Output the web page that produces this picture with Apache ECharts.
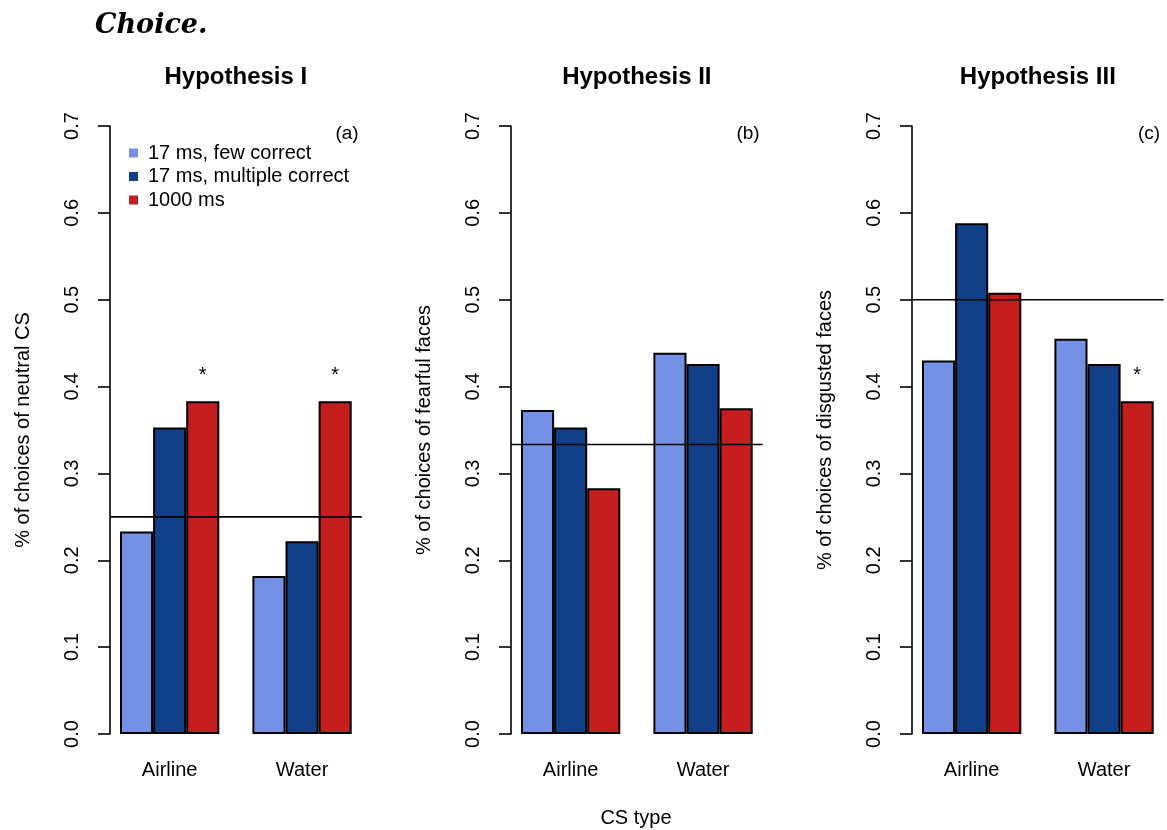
<!DOCTYPE html>
<html>
<head>
<meta charset="utf-8">
<title>Choice</title>
<script src="https://cdn.jsdelivr.net/npm/echarts@6/dist/echarts.min.js"></script>
<style>
  html, body { margin: 0; padding: 0; background: #fff; }
  #chart { width: 1167px; height: 830px; }
</style>
</head>
<body>
<div id="chart"></div>
<script>
// Categories and groups
const categories = ['Airline', 'Water'];
const groupNames = ['17 ms, few correct', '17 ms, multiple correct', '1000 ms'];
const groupColors = ['#7591E6', '#113F88', '#C61E1E'];
const yTicks = [0, 0.1, 0.2, 0.3, 0.4, 0.5, 0.6, 0.7];

// Hypothesis I: proportion choosing the neutral CS
const h1Few = [0.233, 0.182];
const h1Multi = [0.353, 0.222];
const h1Long = [0.383, 0.383];
const h1Stars = [true, true];

// Hypothesis II: proportion choosing fearful faces
const h2Few = [0.373, 0.439];
const h2Multi = [0.353, 0.426];
const h2Long = [0.283, 0.375];
const h2Stars = [false, false];

// Hypothesis III: proportion choosing disgusted faces
const h3Few = [0.430, 0.455];
const h3Multi = [0.588, 0.426];
const h3Long = [0.508, 0.383];
const h3Stars = [false, true];

// Chance level per hypothesis
const chanceLevels = [0.25, 1 / 3, 0.5];

const panels = [
  { title: 'Hypothesis I', tag: '(a)', yName: '% of choices of neutral CS', values: [h1Few, h1Multi, h1Long], stars: h1Stars },
  { title: 'Hypothesis II', tag: '(b)', yName: '% of choices of fearful faces', values: [h2Few, h2Multi, h2Long], stars: h2Stars },
  { title: 'Hypothesis III', tag: '(c)', yName: '% of choices of disgusted faces', values: [h3Few, h3Multi, h3Long], stars: h3Stars }
];

// Layout
const axisX = [110, 511, 912];
const unit = 33.1;          // width of one bar
const plotTop = 126;
const plotHeight = 608;
const FONT = '"Liberation Sans", Arial, Helvetica, sans-serif';

const grids = [], xAxes = [], yAxes = [], series = [], graphics = [];

panels.forEach((p, i) => {
  const ax = axisX[i];
  const barStart = ax + 10;
  const barGrid = i * 2, lineGrid = i * 2 + 1;
  // grid holding the bars (one category band = gap + 3 bars)
  grids.push({ left: barStart - 0.5 * unit, width: 8 * unit, top: plotTop, height: plotHeight, outerBoundsMode: 'none' });
  // grid spanning the plot region, carrying the y axis and the chance line
  grids.push({ left: ax, width: 7 * unit + 20, top: plotTop, height: plotHeight, outerBoundsMode: 'none' });

  xAxes.push({
    type: 'category', gridIndex: barGrid, data: categories,
    axisLine: { show: false }, axisTick: { show: false },
    axisLabel: { margin: 26, fontSize: 20, color: '#000', fontFamily: FONT }
  });
  xAxes.push({ type: 'value', gridIndex: lineGrid, min: 0, max: 1, show: false });

  yAxes.push({ type: 'value', gridIndex: barGrid, min: 0, max: 0.7, show: false });
  yAxes.push({
    type: 'value', gridIndex: lineGrid, min: 0, max: 0.7, interval: 0.1,
    name: p.yName, nameLocation: 'middle', nameRotate: 90, nameGap: 77,
    nameTextStyle: { fontSize: 20, color: '#000', fontFamily: FONT },
    axisLine: { show: true, lineStyle: { color: '#000', width: 1.6 } },
    axisTick: { show: true, length: 12, lineStyle: { color: '#000', width: 1.6 } },
    axisLabel: {
      rotate: 90, margin: 28, fontSize: 20, color: '#000', fontFamily: FONT,
      formatter: v => v.toFixed(1)
    },
    splitLine: { show: false }
  });

  p.values.forEach((vals, k) => {
    const isLong = k === 2;
    series.push({
      type: 'bar', name: groupNames[k],
      xAxisIndex: barGrid, yAxisIndex: barGrid,
      data: vals, barWidth: unit, barGap: '0%',
      itemStyle: { color: groupColors[k], borderColor: '#000', borderWidth: 2 },
      label: isLong ? {
        show: true, position: 'top', distance: 16,
        fontSize: 20, color: '#000', fontFamily: FONT,
        formatter: d => (p.stars[d.dataIndex] ? '*' : '')
      } : { show: false },
      silent: true, animation: false
    });
  });

  series.push({
    type: 'line', xAxisIndex: lineGrid, yAxisIndex: lineGrid,
    data: [[0, chanceLevels[i]], [1, chanceLevels[i]]],
    symbol: 'none', lineStyle: { color: '#000', width: 1.6 },
    silent: true, animation: false, z: 5
  });

  const cx = ax + (7 * unit + 20) / 2;
  graphics.push({
    type: 'text', x: cx, y: 77,
    style: { text: p.title, font: 'bold 24px ' + FONT, fill: '#000', textAlign: 'center', textVerticalAlign: 'middle' }
  });
  graphics.push({
    type: 'text', x: ax + 237, y: 134,
    style: { text: p.tag, font: '19px ' + FONT, fill: '#000', textAlign: 'center', textVerticalAlign: 'middle' }
  });
});

graphics.push({
  type: 'text', x: 95, y: 26,
  style: { text: 'Choice.', font: 'italic bold 27px "DejaVu Serif", "Liberation Serif", serif', fill: '#000', textAlign: 'left', textVerticalAlign: 'middle' }
});
graphics.push({
  type: 'text', x: 636, y: 818,
  style: { text: 'CS type', font: '20px ' + FONT, fill: '#000', textAlign: 'center', textVerticalAlign: 'middle' }
});

const option = {
  backgroundColor: '#fff',
  animation: false,
  grid: grids,
  xAxis: xAxes,
  yAxis: yAxes,
  legend: {
    data: groupNames, orient: 'vertical', left: 124, top: 138,
    icon: 'rect', itemWidth: 9, itemHeight: 9, itemGap: 3.5,
    selectedMode: false,
    textStyle: { fontSize: 20, color: '#000', fontFamily: FONT, lineHeight: 20, padding: [0, 0, 0, 5] },
    itemStyle: { borderWidth: 0 }
  },
  series: series,
  graphic: graphics
};

const chart = echarts.init(document.getElementById('chart'), null, { renderer: 'canvas' });
chart.setOption(option);
</script>
</body>
</html>
